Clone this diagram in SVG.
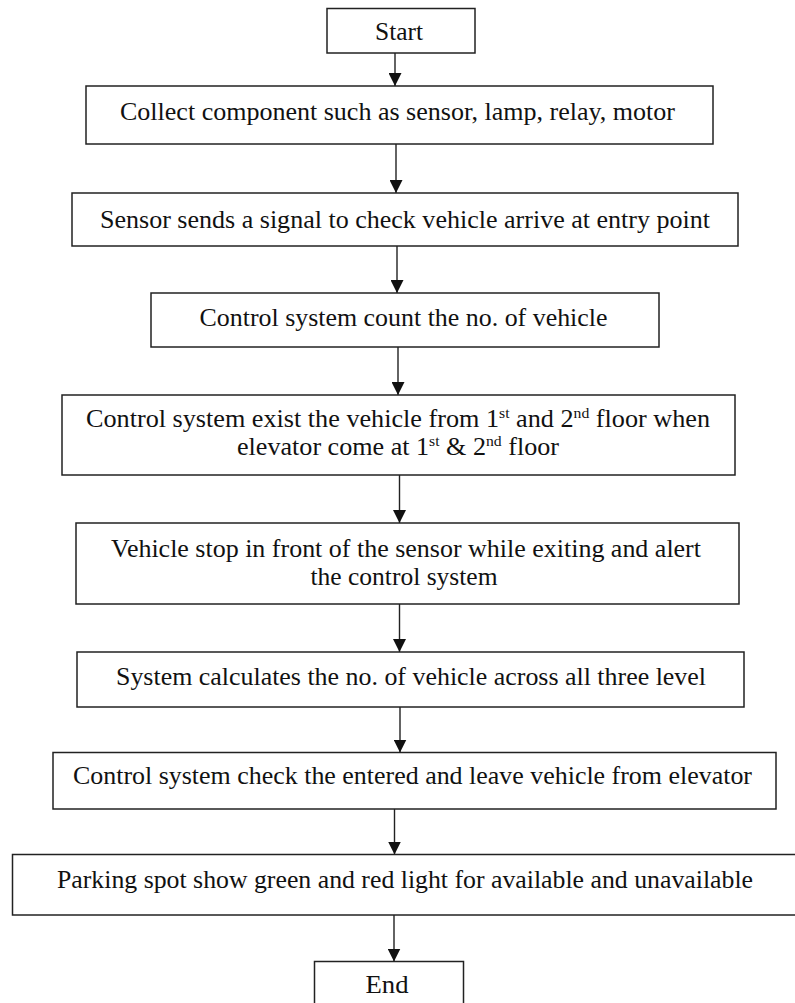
<svg xmlns="http://www.w3.org/2000/svg" width="795" height="1003" viewBox="0 0 795 1003">
<style>
.box{fill:#fff;stroke:#222;stroke-width:1.5}
.lbl{font-family:"Liberation Serif","Times New Roman",serif;font-size:25px;fill:#111;text-anchor:middle}
.sup{font-size:15px}
.conn line{stroke:#222;stroke-width:1.4;marker-end:url(#ah)}
</style>
<defs>
<marker id="ah" markerUnits="userSpaceOnUse" markerWidth="13" markerHeight="13" refX="13" refY="6.5" orient="auto">
<path d="M0,0 L13,6.5 L0,13 z" fill="#111"/>
</marker>
</defs>
<rect width="795" height="1003" fill="#fff"/>
<g id="connectors" class="conn">
<line x1="395" y1="53" x2="395" y2="86"/>
<line x1="396" y1="144" x2="396" y2="193"/>
<line x1="397" y1="246" x2="397" y2="293"/>
<line x1="398" y1="347" x2="398" y2="395"/>
<line x1="399.5" y1="475" x2="399.5" y2="523"/>
<line x1="399.5" y1="604" x2="399.5" y2="652"/>
<line x1="400" y1="707" x2="400" y2="752.5"/>
<line x1="394.5" y1="809" x2="394.5" y2="854.5"/>
<line x1="394" y1="915" x2="394" y2="961.5"/>
</g>
<g id="start">
<rect class="box" x="327" y="8.5" width="148" height="44.5"/>
<text class="lbl" x="399" y="39.5" textLength="48" lengthAdjust="spacingAndGlyphs">Start</text>
</g>
<g id="collect">
<rect class="box" x="86" y="86" width="627" height="58"/>
<text class="lbl" x="397.5" y="120" textLength="555" lengthAdjust="spacingAndGlyphs">Collect component such as sensor, lamp, relay, motor</text>
</g>
<g id="sensor">
<rect class="box" x="72" y="193" width="666" height="53"/>
<text class="lbl" x="405" y="228" textLength="610" lengthAdjust="spacingAndGlyphs">Sensor sends a signal to check vehicle arrive at entry point</text>
</g>
<g id="count">
<rect class="box" x="151" y="293" width="508" height="54"/>
<text class="lbl" x="403.5" y="326" textLength="408" lengthAdjust="spacingAndGlyphs">Control system count the no. of vehicle</text>
</g>
<g id="exist">
<rect class="box" x="62" y="395" width="673" height="80"/>
<text class="lbl" x="398" y="427" textLength="624" lengthAdjust="spacingAndGlyphs">Control system exist the vehicle from 1<tspan class="sup" dy="-9">st</tspan><tspan dy="9"> and 2</tspan><tspan class="sup" dy="-9">nd</tspan><tspan dy="9"> floor when</tspan></text>
<text class="lbl" x="398" y="455" textLength="322" lengthAdjust="spacingAndGlyphs">elevator come at 1<tspan class="sup" dy="-9">st</tspan><tspan dy="9"> &amp; 2</tspan><tspan class="sup" dy="-9">nd</tspan><tspan dy="9"> floor</tspan></text>
</g>
<g id="vehicle-stop">
<rect class="box" x="76" y="523" width="663" height="81"/>
<text class="lbl" x="406" y="557" textLength="590" lengthAdjust="spacingAndGlyphs">Vehicle stop in front of the sensor while exiting and alert</text>
<text class="lbl" x="404" y="585" textLength="187" lengthAdjust="spacingAndGlyphs">the control system</text>
</g>
<g id="calculate">
<rect class="box" x="77" y="652" width="667" height="55"/>
<text class="lbl" x="411" y="685" textLength="590" lengthAdjust="spacingAndGlyphs">System calculates the no. of vehicle across all three level</text>
</g>
<g id="check">
<rect class="box" x="53" y="752.5" width="723" height="56.5"/>
<text class="lbl" x="412.5" y="784" textLength="679" lengthAdjust="spacingAndGlyphs">Control system check the entered and leave vehicle from elevator</text>
</g>
<g id="parking">
<rect class="box" x="12.5" y="854.5" width="790" height="60.5"/>
<text class="lbl" x="405" y="888" textLength="696" lengthAdjust="spacingAndGlyphs">Parking spot show green and red light for available and unavailable</text>
</g>
<g id="end">
<rect class="box" x="314.5" y="961.5" width="149" height="50"/>
<text class="lbl" x="387" y="993" textLength="43" lengthAdjust="spacingAndGlyphs">End</text>
</g>
</svg>
